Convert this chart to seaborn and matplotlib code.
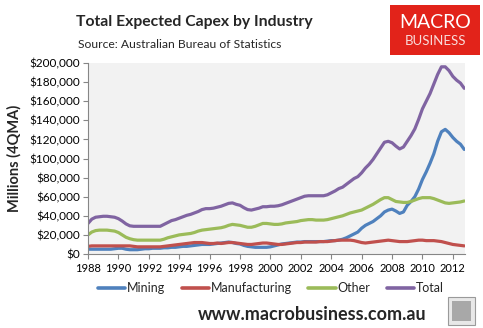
import numpy as np
import pandas as pd
import matplotlib
matplotlib.use("Agg")
import matplotlib.pyplot as plt
from matplotlib.patches import Rectangle
from matplotlib.ticker import FuncFormatter, MultipleLocator
import seaborn as sns

# Quarterly expected capex, $ millions (four-quarter moving average), 1988Q1-2012Q4
mining = [
    5, 5, 5, 5,  5, 5, 5, 5.5,  6, 6, 5, 4.5,  4.5, 4.5, 5, 5.5,  5.5, 6, 6, 6,
    6.5, 6.5, 7, 7,  7.5, 8, 8, 8.5,  9, 9.5, 10, 10,  10, 10.5, 11, 11.5,  12, 12.5, 12, 11,
    10.5, 9, 8, 7.5,  7, 7, 7, 7,  7.5, 8.5, 9.5, 10.5,  11, 11.5, 12, 12.5,  12.5, 13, 13, 13,
    13, 13, 13, 13.5,  14, 14, 14.5, 15.5,  17, 19, 21, 23,  27, 30, 32, 34,  37, 40, 44, 46,
    47, 45, 42.5, 44,  51, 55, 60, 68,  78, 86, 95, 105,  118, 128, 130.5, 127,  122, 118, 115, 109.5,
]
manufacturing = [
    8, 8.5, 8.5, 8.5,  8.5, 8.5, 8.5, 8.5,  8.5, 8.5, 8.5, 8.5,  8, 7.5, 7.5, 7.5,  7.5, 7.5, 7.5, 7.5,
    8, 8.5, 9, 9.5,  10, 10.5, 11, 11.5,  12, 12, 12, 11.5,  11, 11, 11.5, 11,  11.5, 12, 12, 11.5,
    11, 10.5, 10, 10,  10.5, 11, 11.5, 11.5,  11, 10.5, 10, 10,  10.5, 11, 11.5, 12,  12, 12.5, 12.5, 12.5,
    12.5, 13, 13, 13,  13.5, 14, 14.5, 14.5,  14.5, 14.5, 14, 13,  12, 11.5, 12, 12.5,  13, 13.5, 14, 14.5,
    14, 13.5, 13, 13,  13, 13.5, 14, 14.5,  14.5, 14, 14, 14,  13.5, 13, 12, 11,  10, 9.5, 9, 8.5,
]
other = [
    20, 23, 24.5, 25,  25, 25, 24.5, 24,  22.5, 20, 17.5, 16,  15, 14.5, 14.5, 14.5,  14.5, 14.5, 14.5, 14.5,
    15.5, 17, 18, 19,  20, 20.5, 21, 21.5,  22.5, 24, 25, 25.5,  26, 26.5, 27, 27.5,  28.5, 30, 31, 30.5,
    30, 29, 28, 28,  29, 30.5, 32, 32,  31.5, 31, 31, 31.5,  32.5, 33, 33.5, 34,  35, 35.5, 36, 36,
    35.5, 35.5, 35.5, 36,  37, 38, 39, 40,  41.5, 43, 44, 45,  46, 48, 50, 52,  54.5, 57, 59, 59,
    57, 55, 54.5, 54,  54, 55, 56.5, 58,  59, 59, 59, 58,  56.5, 55, 53.5, 53,  53.5, 54, 54.5, 55.5,
]
total = [
    32, 36.5, 38.5, 39,  39.5, 39.5, 39, 38.5,  37, 34.5, 31.5, 29.5,  29, 29, 29, 29,  29, 29, 29, 29,
    31, 33, 35, 36,  37.5, 39, 40.5, 41.5,  43, 44.5, 46.5, 47.5,  47.5, 48, 49, 50,  51.5, 53, 53.5, 52,
    51, 48.5, 46.5, 46,  47, 48, 49.5, 49.5,  50, 50, 50.5, 51.5,  53, 54.5, 56, 57.5,  59, 60.5, 61, 61,
    61, 61, 61, 62,  64, 66, 68.5, 70,  73, 76, 79, 81,  85, 90, 94, 99,  105, 111, 117, 118,
    116.5, 113, 110, 112,  118, 124, 131, 141,  152, 160, 168, 178,  188, 196, 196, 192,  186, 182, 179, 173.5,
]
series_names = ["Mining", "Manufacturing", "Other", "Total"]
series_colors = ["#4F81BD", "#C0504D", "#9BBB59", "#8064A2"]
year_ticks = list(range(1988, 2013, 2))

quarters = 1988 + np.arange(len(total)) / 4.0
frames = []
for name, vals in zip(series_names, [mining, manufacturing, other, total]):
    frames.append(pd.DataFrame({"date": quarters, "value": np.array(vals) * 1000.0, "series": name}))
df = pd.concat(frames, ignore_index=True)

sns.set_theme(style="white")
plt.rcParams["font.family"] = ["Lato", "DejaVu Sans"]

fig = plt.figure(figsize=(4.83, 3.28), dpi=100)
ax = fig.add_axes([88 / 483, 1 - 254 / 328, (465 - 88) / 483, (254 - 63) / 328])
ax.set_facecolor("#F2F2F2")

sns.lineplot(data=df, x="date", y="value", hue="series", hue_order=series_names,
             palette=series_colors, linewidth=2.3, ax=ax, legend=False)

ax.set_xlim(1988, 2012.8)
ax.set_ylim(0, 200000)
ax.set_xticks(year_ticks)
ax.set_xticklabels([str(y) for y in year_ticks])
ax.yaxis.set_major_locator(MultipleLocator(20000))
ax.yaxis.set_major_formatter(FuncFormatter(lambda v, p: f"${v:,.0f}"))
ax.set_xlabel("")
ax.set_ylabel("Millions (4QMA)", fontsize=10.5, fontweight="bold", labelpad=6)

for side in ["top", "right"]:
    ax.spines[side].set_visible(False)
for side in ["left", "bottom"]:
    ax.spines[side].set_color("#868686")
    ax.spines[side].set_linewidth(0.8)
ax.tick_params(axis="both", which="major", direction="out", length=3.5, width=0.8,
               color="#868686", labelsize=8.5, labelcolor="black", pad=2)
ax.tick_params(axis="x", labelsize=8, pad=3)
ax.tick_params(left=True, bottom=True)

handles = [plt.Line2D([0], [0], color=c, lw=2.6) for c in series_colors]
fig.legend(handles, series_names, loc="center", bbox_to_anchor=(271 / 483, 1 - 288 / 328),
           ncol=4, frameon=False, fontsize=9, handlelength=2.2, handletextpad=0.15,
           columnspacing=1.3)

fig.text(194 / 483, 1 - 22 / 328, "Total Expected Capex by Industry", ha="center", va="center",
         fontsize=11.3, fontweight="bold")
fig.text(78 / 483, 1 - 45 / 328, "Source: Australian Bureau of Statistics", ha="left", va="center",
         fontsize=8.7)
fig.text(312 / 483, 1 - 315 / 328, "www.macrobusiness.com.au", ha="center", va="center",
         fontsize=13, fontweight="bold")

# MacroBusiness badge
fig.patches.append(Rectangle((390 / 483, 1 - 55 / 328), 90 / 483, 50 / 328,
                             transform=fig.transFigure, facecolor="#E2231A", edgecolor="none"))
fig.text(435 / 483, 1 - 22 / 328, "MACRO", ha="center", va="center", color="white",
         fontsize=14, fontweight="normal")
fig.text(435 / 483, 1 - 41 / 328, "BUSINESS", ha="center", va="center", color="#F8DCDA",
         fontsize=9.5)

# small wolf badge
fig.patches.append(Rectangle((448 / 483, 1 - 325 / 328), 27 / 483, 28 / 328,
                             transform=fig.transFigure, facecolor="#E8E8E8", edgecolor="#9A9A9A",
                             linewidth=0.8))
fig.patches.append(Rectangle((452 / 483, 1 - 321 / 328), 19 / 483, 20 / 328,
                             transform=fig.transFigure, facecolor="#A8A8A8", edgecolor="none"))

fig.savefig("out.png", dpi=100)
